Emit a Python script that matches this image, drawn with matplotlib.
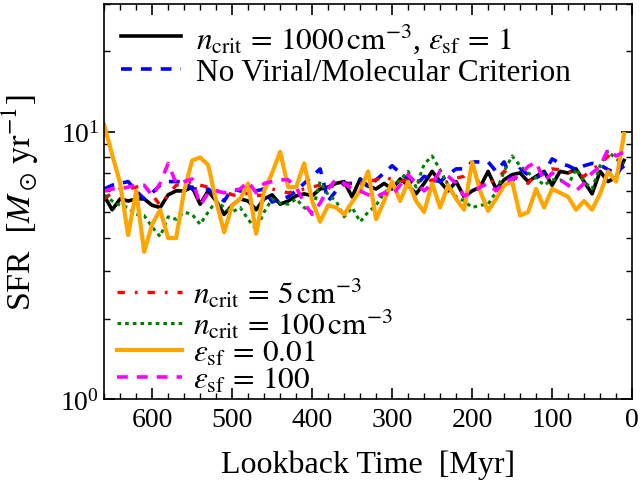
import numpy as np
import matplotlib
matplotlib.use('Agg')
import matplotlib.pyplot as plt
from matplotlib.ticker import MultipleLocator, NullFormatter

plt.rcParams['font.family'] = ['Liberation Serif', 'DejaVu Serif']
plt.rcParams['mathtext.fontset'] = 'stix'
plt.rcParams['font.size'] = 20

# lookback time of each bin [Myr]
time = np.arange(660, 0, -10)

sfr_fiducial = [5.75, 5.1, 5.6, 5.5, 5.6, 5.6, 5.3, 5.2, 5.8, 6.0, 6.0, 6.2, 5.35, 6.0, 5.5, 4.9,
                5.3, 5.6, 5.5, 5.1, 5.6, 5.8, 5.35, 5.5, 5.75, 5.85, 5.75, 6.1, 6.2, 6.4, 6.5, 5.7,
                6.65, 6.25, 6.1, 6.4, 6.1, 6.65, 6.3, 5.85, 6.4, 7.1, 6.5, 6.0, 6.5, 5.7, 6.0, 6.2,
                7.1, 6.1, 6.6, 6.9, 7.0, 6.5, 6.8, 7.1, 6.3, 7.1, 7.0, 7.25, 6.5, 5.85, 7.1, 6.5,
                6.75, 7.8]
sfr_novir = [6.1, 6.3, 6.4, 6.5, 6.0, 5.6, 5.9, 6.3, 6.5, 6.5, 6.5, 6.1, 6.1, 6.1, 5.8, 5.5,
             6.1, 6.0, 5.9, 6.0, 6.1, 5.45, 5.6, 5.7, 6.0, 6.4, 6.8, 7.25, 5.5, 6.0, 6.4, 6.4,
             6.65, 6.2, 6.6, 7.0, 7.45, 7.0, 6.6, 6.3, 6.8, 6.6, 6.5, 6.9, 7.25, 7.25, 7.7, 7.7,
             7.7, 7.1, 7.7, 6.5, 7.25, 6.9, 6.7, 7.0, 7.9, 7.6, 7.45, 7.2, 7.45, 7.6, 7.5, 7.2,
             7.0, 7.45]
sfr_n5 = [5.6, 5.9, 6.1, 6.1, 6.2, 6.3, 5.8, 5.3, 5.8, 6.3, 6.4, 6.5, 6.3, 6.2, 6.0, 6.0,
          5.8, 5.75, 5.9, 5.75, 5.8, 6.1, 6.0, 5.9, 6.0, 6.1, 6.2, 6.3, 6.3, 6.2, 6.3, 6.4,
          6.3, 6.5, 6.6, 6.8, 6.6, 6.5, 6.6, 6.5, 6.4, 6.6, 6.4, 6.5, 6.7, 6.8, 7.25, 6.3,
          6.4, 6.6, 7.1, 6.8, 6.6, 6.4, 6.9, 7.1, 7.25, 7.2, 7.1, 6.9, 6.8, 7.25, 7.5, 8.1,
          7.6, 7.7]
sfr_n100 = [5.8, 5.5, 5.3, 5.2, 4.9, 4.85, 4.4, 4.05, 4.8, 4.7, 5.0, 4.9, 4.5, 5.0, 5.5, 5.2,
            5.0, 5.2, 4.7, 4.3, 5.0, 5.6, 5.4, 5.35, 5.6, 5.2, 5.0, 6.5, 5.8, 5.5, 4.8, 5.2,
            4.6, 5.0, 5.3, 5.9, 6.2, 6.6, 7.1, 6.2, 7.55, 8.1, 7.2, 6.3, 5.7, 5.5, 5.2, 5.3,
            5.35, 5.95, 7.1, 8.1, 7.45, 7.0, 6.7, 6.3, 6.6, 6.6, 6.3, 7.25, 6.5, 6.1, 7.45, 8.45,
            7.9, 7.6]
sfr_eps001 = [10.6, 8.2, 6.4, 4.1, 6.0, 3.55, 4.5, 5.1, 4.0, 4.0, 6.0, 7.8, 8.0, 7.5, 5.5, 4.2,
              5.3, 5.6, 6.4, 4.15, 6.0, 7.0, 8.4, 6.2, 6.2, 7.6, 5.5, 4.6, 5.3, 5.2, 4.9, 5.45,
              6.0, 7.1, 4.7, 5.5, 6.5, 5.5, 6.5, 5.5, 5.0, 6.4, 5.2, 6.3, 5.6, 5.1, 7.7, 6.0,
              5.05, 5.6, 6.3, 6.5, 4.85, 5.0, 6.1, 5.2, 6.1, 5.9, 5.7, 5.1, 5.5, 5.1, 5.85, 7.1,
              6.5, 9.8]
sfr_eps100 = [6.0, 6.1, 6.1, 6.2, 6.3, 6.3, 5.75, 6.4, 7.6, 6.4, 6.5, 6.65, 5.3, 5.9, 6.0, 5.9,
              6.0, 6.1, 6.5, 5.9, 6.4, 6.5, 6.6, 6.6, 6.2, 5.4, 4.9, 5.4, 6.1, 6.65, 6.4, 6.1,
              6.0, 5.8, 5.7, 5.9, 5.75, 6.3, 6.9, 6.4, 6.0, 6.4, 7.1, 6.8, 6.4, 5.75, 5.9, 6.2,
              6.4, 6.0, 6.5, 6.65, 6.9, 7.4, 7.7, 6.5, 7.0, 6.6, 6.3, 6.0, 6.4, 7.0, 7.4, 8.6,
              8.1, 8.4]

fig = plt.figure(figsize=(6.43, 4.85), dpi=100)
ax = fig.add_axes([0.162, 0.175, 0.821, 0.815])

l1, = ax.plot(time, sfr_fiducial, color='black', lw=2.6,
              label=r'$n_{\rm crit}\,=\,1000\,{\rm cm^{-3}}$, $\varepsilon_{\rm sf}\,=\,1$')
l2, = ax.plot(time, sfr_novir, color='blue', lw=2.6, dashes=(3, 2.5),
              label='No Virial/Molecular Criterion')
l3, = ax.plot(time, sfr_n5, color='red', lw=2.4, dashes=(2.2, 3, 0.8, 3),
              label=r'$n_{\rm crit}\,=\,5\,{\rm cm^{-3}}$')
l4, = ax.plot(time, sfr_n100, color='green', lw=2.2, dashes=(1.2, 1.3),
              label=r'$n_{\rm crit}\,=\,100\,{\rm cm^{-3}}$')
l5, = ax.plot(time, sfr_eps001, color='orange', lw=3.0,
              label=r'$\varepsilon_{\rm sf}\,=\,0.01$')
l6, = ax.plot(time, sfr_eps100, color='magenta', lw=2.6, dashes=(3, 2.5),
              label=r'$\varepsilon_{\rm sf}\,=\,100$')

ax.set_yscale('log')
ax.set_xlim(660, 0)
ax.set_ylim(1, 30)
ax.xaxis.set_major_locator(MultipleLocator(100))
ax.xaxis.set_minor_locator(MultipleLocator(20))
ax.yaxis.set_minor_formatter(NullFormatter())
ax.tick_params(which='both', direction='in', top=True, right=True, labelsize=20)
ax.tick_params(axis='x', which='major', pad=6)
ax.tick_params(which='major', length=8, width=1.2)
ax.tick_params(which='minor', length=4, width=1.0)
for s in ax.spines.values():
    s.set_linewidth(1.2)

ax.set_xlabel('Lookback Time  [Myr]', fontsize=23, labelpad=12)
ax.set_ylabel(r'SFR  $[M_\odot\,{\rm yr^{-1}}]$', fontsize=24.5, labelpad=14)

leg1 = ax.legend(handles=[l1, l2], loc='upper left', frameon=False, fontsize=22.5,
                 handlelength=1.9, handletextpad=0.5, labelspacing=0.1,
                 borderaxespad=0.15)
ax.add_artist(leg1)
ax.legend(handles=[l3, l4, l5, l6], loc='lower left', frameon=False, fontsize=22.5,
          handlelength=2.1, handletextpad=0.35, labelspacing=-0.08,
          borderaxespad=0.0, bbox_to_anchor=(0.0, -0.02))

fig.savefig('out.png', dpi=100)
